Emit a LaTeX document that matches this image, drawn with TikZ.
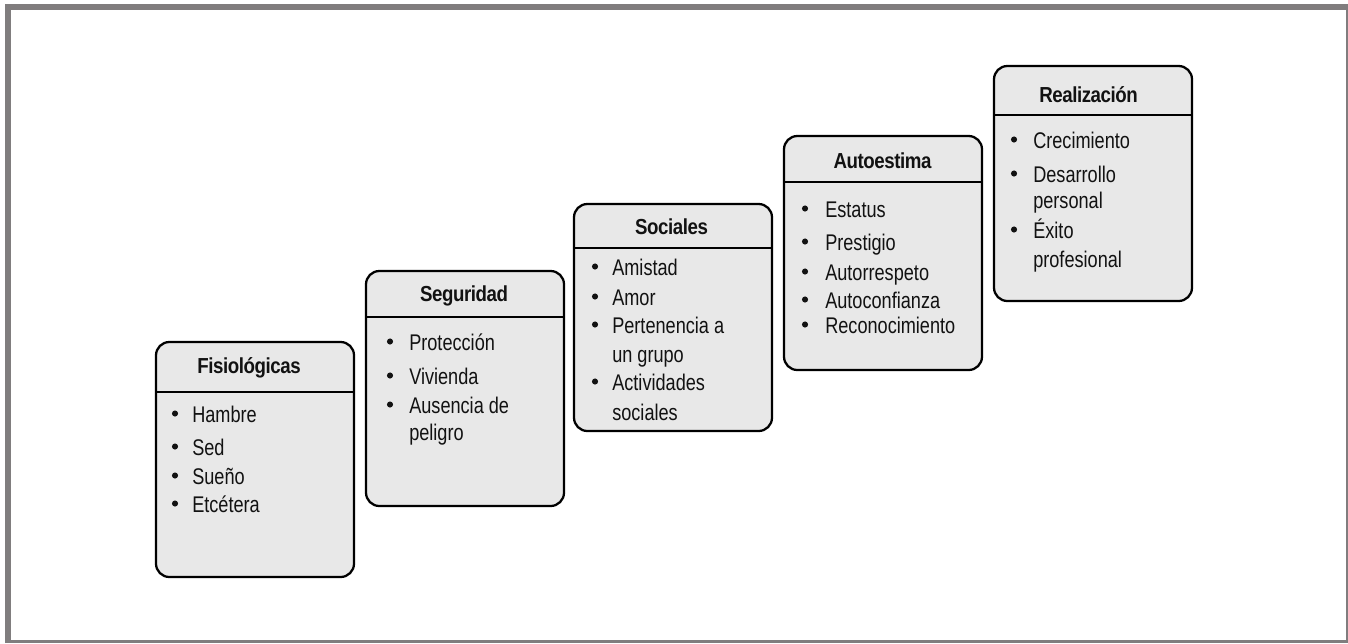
\documentclass[tikz,border=0pt]{standalone}
\usepackage{fontspec}
\setmainfont{Liberation Sans}
\newfontfamily\itemfont{Liberation Sans}[FakeStretch=0.8]
\newfontfamily\headfont{Liberation Sans}[FakeStretch=0.86,LetterSpace=-2]
\definecolor{framegray}{RGB}{128,125,126}
\definecolor{boxgray}{RGB}{232,232,232}
\definecolor{ink}{RGB}{18,18,18}

% a stage: rounded box, rule under the title, and the title
% #1 name, #2 left x, #3 top y, #4 height, #5 rule offset, #6 title x, #7 title baseline, #8 title
\newcommand\stagebox[8]{%
  \node[stage, minimum height=#4*0.75pt] (#1) at (#2,#3) {};
  \draw[rule] ([yshift=-#5*0.75pt]#1.north west) -- ([yshift=-#5*0.75pt]#1.north east);
  \node[head] (#1-title) at (#6,#7) {#8};
}
% bulleted entry: #1 name, #2 bullet x, #3 text x, #4 baseline y, #5 text
\newcommand\bentry[5]{%
  \fill[ink] (#2,#4-8.5) circle[radius=2.3pt];
  \node[entry] (#1) at (#3,#4) {#5};
}
% continuation line: #1 name, #2 text x, #3 baseline y, #4 text
\newcommand\centry[4]{\node[entry] (#1) at (#2,#3) {#4};}

\begin{document}
\begin{tikzpicture}[x=0.75pt,y=-0.75pt,
  stage/.style={draw=black, line width=1.7pt, fill=boxgray, rounded corners=10pt,
    anchor=north west, minimum width=148.5pt, inner sep=0pt, outer sep=0pt},
  rule/.style={draw=black, line width=1.4pt},
  head/.style={font=\headfont\bfseries\fontsize{16.3}{19}\selectfont, anchor=base,
    inner sep=0pt, text=ink},
  entry/.style={font=\itemfont\fontsize{17}{20}\selectfont, anchor=base west,
    inner sep=0pt, text=ink}]

\useasboundingbox (0,0) rectangle (1348,643);
\fill[white] (0,0) rectangle (1348,643);

% outer frame
\fill[framegray] (5,4) rectangle (1348,10);
\fill[framegray] (5,4) rectangle (11,643);
\fill[framegray] (1345.5,4) rectangle (1348,643);
\fill[framegray] (5,640) rectangle (1348,643);

% Fisiologicas
\stagebox{fis}{156}{342}{235}{50}{249}{373}{Fisiológicas}
\bentry{fis1}{175}{192}{422}{Hambre}
\bentry{fis2}{175}{192}{455}{Sed}
\bentry{fis3}{175}{192}{484}{Sueño}
\bentry{fis4}{175}{192}{512}{Etcétera}

% Seguridad
\stagebox{seg}{366}{271}{235}{46}{464}{301}{Seguridad}
\bentry{seg1}{390}{409}{350}{Protección}
\bentry{seg2}{390}{409}{384}{Vivienda}
\bentry{seg3}{390}{409}{413}{Ausencia de}
\centry{seg3b}{409}{440}{peligro}

% Sociales
\stagebox{soc}{574}{204}{227}{44}{671.5}{234}{Sociales}
\bentry{soc1}{595}{612}{275}{Amistad}
\bentry{soc2}{595}{612}{305}{Amor}
\bentry{soc3}{595}{612}{333}{Pertenencia a}
\centry{soc3b}{612}{362}{un grupo}
\bentry{soc4}{595}{612}{390}{Actividades}
\centry{soc4b}{612}{420}{sociales}

% Autoestima
\stagebox{aut}{784}{136}{234}{46}{882.5}{168}{Autoestima}
\bentry{aut1}{805}{825}{217}{Estatus}
\bentry{aut2}{805}{825}{250}{Prestigio}
\bentry{aut3}{805}{825}{280}{Autorrespeto}
\bentry{aut4}{805}{825}{308}{Autoconfianza}
\bentry{aut5}{805}{825}{333}{Reconocimiento}

% Realizacion
\stagebox{rea}{994}{66}{235}{49}{1088.5}{102}{Realización}
\bentry{rea1}{1014}{1033}{148}{Crecimiento}
\bentry{rea2}{1014}{1033}{182}{Desarrollo}
\centry{rea2b}{1033}{208}{personal}
\bentry{rea3}{1014}{1033}{238}{Éxito}
\centry{rea3b}{1033}{267}{profesional}

\end{tikzpicture}
\end{document}
